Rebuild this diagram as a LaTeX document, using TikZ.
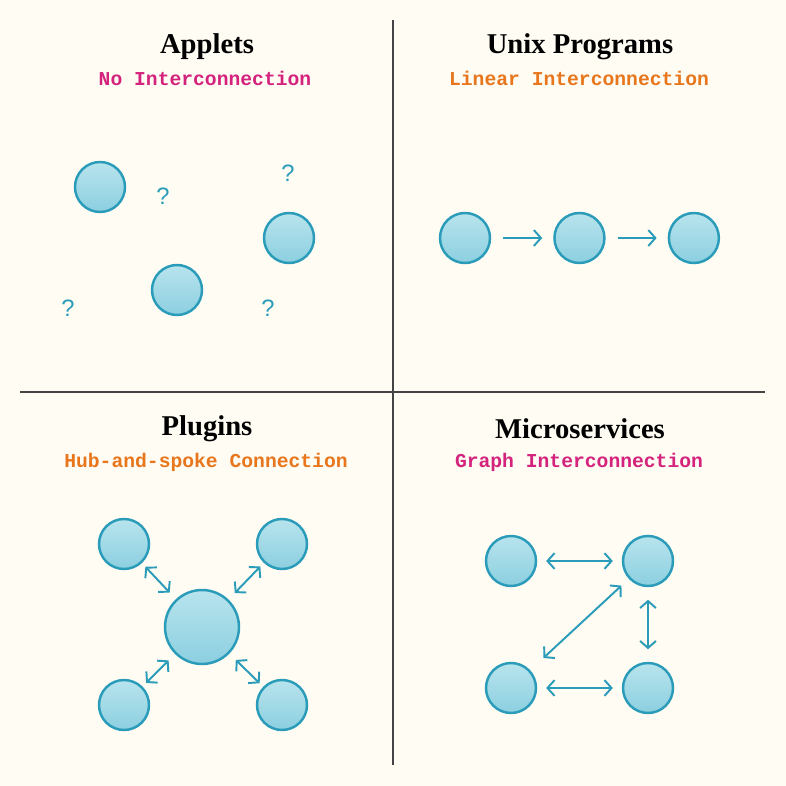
\documentclass[tikz,border=0pt]{standalone}
\usepackage{fontspec}
\setmainfont{Liberation Serif}
\newfontfamily\subfont{Liberation Mono}
\newfontfamily\qfont{Liberation Sans}
\usetikzlibrary{arrows.meta,positioning}
\definecolor{paper}{HTML}{FEFCF3}
\definecolor{rule}{HTML}{444444}
\definecolor{ring}{HTML}{2A9CBA}
\definecolor{ballhi}{HTML}{B8E4ED}
\definecolor{balllo}{HTML}{8CCFE0}
\definecolor{pinkish}{HTML}{D4237D}
\definecolor{orangey}{HTML}{E8761C}

\begin{document}
\begin{tikzpicture}[
    x=0.02cm, y=-0.02cm,
    ball/.style={circle, draw=ring, line width=1.4pt, top color=ballhi,
                 bottom color=balllo, minimum size=1cm, inner sep=0pt},
    hub/.style={ball, minimum size=1.48cm},
    title/.style={font=\bfseries\fontsize{16.3}{18}\selectfont},
    sub/.style={font=\subfont\bfseries\fontsize{11.2}{13}\selectfont},
    qmark/.style={text=ring, font=\qfont\fontsize{13.5}{15}\selectfont},
    arr/.style={-{Straight Barb[length=4pt,width=9pt]}, line width=1.1pt, ring},
    darr/.style={{Straight Barb[length=4pt,width=9pt]}-{Straight Barb[length=4pt,width=9pt]},
                 line width=1.1pt, ring}
  ]
  \fill[paper] (0,0) rectangle (786,786);
  \useasboundingbox (0,0) rectangle (786,786);
  \draw[rule, line width=0.8pt] (393,20) -- (393,765);
  \draw[rule, line width=0.8pt] (20,392) -- (765,392);

  \node[title] (t1) at (207,47) {Applets};
  \node[sub, text=pinkish] (s1) at (205,78) {No Interconnection};
  \node[title] (t2) at (580,47) {Unix Programs};
  \node[sub, text=orangey] (s2) at (579,78) {Linear Interconnection};
  \node[title] (t3) at (207,429) {Plugins};
  \node[sub, text=orangey] (s3) at (206,462) {Hub-and-spoke Connection};
  \node[title] (t4) at (580,429) {Microservices};
  \node[sub, text=pinkish] (s4) at (579,462) {Graph Interconnection};

  \node[ball] (a1) at (100,187) {};
  \node[ball] (a2) at (289,238) {};
  \node[ball] (a3) at (177,290) {};
  \node[qmark] (q1) at (163,196) {?};
  \node[qmark] (q2) at (288,173) {?};
  \node[qmark] (q3) at (68,308) {?};
  \node[qmark] (q4) at (268,308) {?};

  \node[ball] (u1) at (465,238) {};
  \node[ball, right=1.24cm of u1] (u2) {};
  \node[ball, right=1.24cm of u2] (u3) {};
  \draw[arr, shorten <=0.24cm, shorten >=0.22cm] (u1) -- (u2);
  \draw[arr, shorten <=0.24cm, shorten >=0.22cm] (u2) -- (u3);

  \node[hub] (h) at (202,627) {};
  \node[ball] (p1) at (124,544) {};
  \node[ball] (p2) at (282,544) {};
  \node[ball] (p3) at (124,705) {};
  \node[ball] (p4) at (282,705) {};
  \draw[darr, shorten <=0.1cm, shorten >=0.18cm] (p1) -- (h);
  \draw[darr, shorten <=0.1cm, shorten >=0.18cm] (p2) -- (h);
  \draw[darr, shorten <=0.1cm, shorten >=0.18cm] (p3) -- (h);
  \draw[darr, shorten <=0.1cm, shorten >=0.18cm] (p4) -- (h);

  \node[ball] (m1) at (511,561) {};
  \node[ball] (m2) at (648,561) {};
  \node[ball] (m3) at (511,688) {};
  \node[ball] (m4) at (648,688) {};
  \draw[darr, shorten <=0.18cm, shorten >=0.18cm] (m1) -- (m2);
  \draw[darr, shorten <=0.18cm, shorten >=0.18cm] (m3) -- (m4);
  \draw[darr, shorten <=0.25cm, shorten >=0.25cm] (m2) -- (m4);
  \draw[darr, shorten <=0.2cm, shorten >=0.36cm] (m2) -- (m3);
\end{tikzpicture}
\end{document}
